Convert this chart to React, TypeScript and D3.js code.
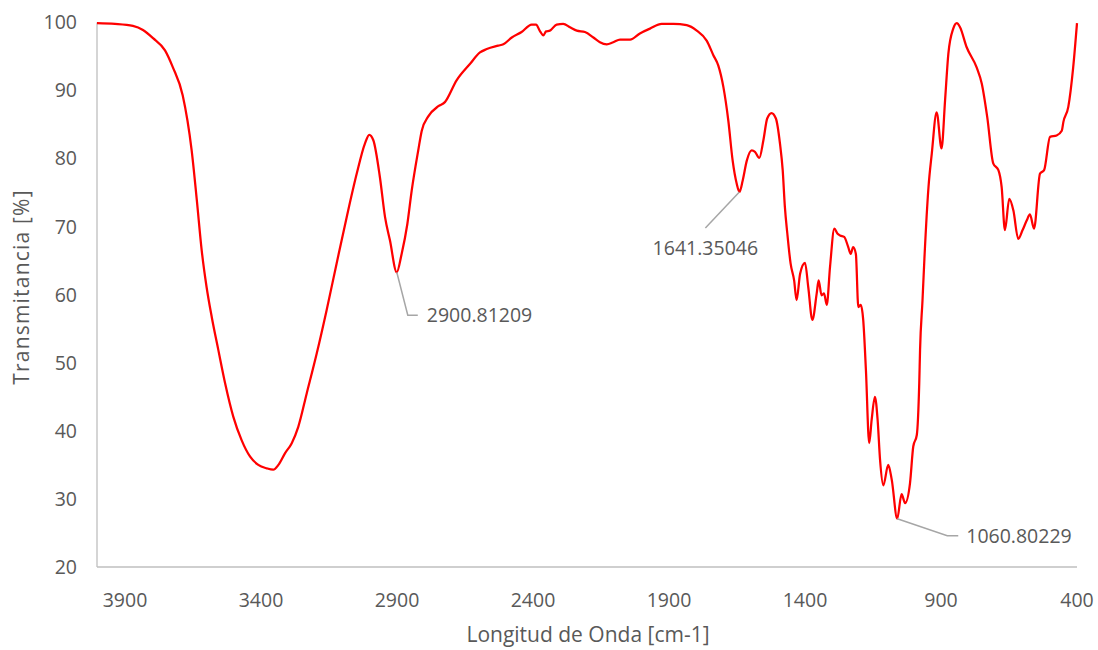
import React from 'react';
import * as d3 from 'd3';

// wavenumber [cm-1] and transmittance [%]
const waveNumbers = [
  4003, 3937, 3871, 3834, 3797, 3753, 3724, 3688, 3655, 3636, 3618, 3600, 3581, 3557, 3532,
  3502, 3471, 3440, 3410, 3379, 3355, 3336, 3312, 3287, 3263, 3232, 3195, 3159, 3122, 3085, 3048,
  3018, 3002, 2987, 2963, 2944, 2926, 2901, 2883, 2862, 2846, 2822, 2809, 2785, 2748, 2724,
  2681, 2632, 2595, 2570, 2528, 2509, 2478, 2442, 2405, 2389, 2374, 2362, 2352, 2338, 2313, 2289,
  2264, 2239, 2209, 2178, 2154, 2129, 2105, 2080, 2043, 2007, 1970, 1927, 1884, 1835, 1798, 1761,
  1737, 1719, 1700, 1682, 1666, 1651, 1641, 1629, 1614, 1596, 1584, 1568, 1553, 1539, 1523, 1507,
  1492, 1482, 1474, 1465, 1453, 1440, 1431, 1418, 1400, 1388, 1373, 1357, 1350, 1339, 1330, 1320,
  1308, 1292, 1281, 1271, 1256, 1241, 1232, 1223, 1213, 1204, 1195, 1186, 1176, 1164, 1155, 1143,
  1133, 1124, 1112, 1094, 1081, 1061, 1045, 1032, 1014, 1002, 989, 980, 977, 968, 961, 946,
  934, 916, 898, 885, 873, 855, 842, 830, 806, 769, 750, 730, 708, 689, 677, 665,
  649, 634, 616, 600, 585, 573, 558, 536, 521, 499, 475, 456, 450, 432, 414, 400,
];
const transmittance = [
  99.9, 99.8, 99.5, 98.9, 97.7, 95.9, 93.4, 89.3, 81.2, 73.9, 66.5, 61.1, 56.7, 51.9, 47.0,
  42.1, 38.6, 36.2, 35.0, 34.5, 34.3, 35.0, 36.7, 38.2, 40.6, 45.5, 51.4, 57.7, 64.6, 71.4, 77.8,
  82.2, 83.5, 82.7, 77.3, 71.4, 68.0, 63.3, 66.0, 70.4, 75.3, 81.2, 84.1, 86.2, 87.7, 88.3,
  91.5, 93.9, 95.6, 96.1, 96.6, 96.8, 97.8, 98.6, 99.7, 99.7, 98.7, 98.1, 98.7, 98.8, 99.7, 99.8,
  99.3, 98.8, 98.6, 97.8, 97.1, 96.8, 97.1, 97.5, 97.5, 98.4, 99.1, 99.8, 99.8, 99.6, 98.8, 97.3,
  95.2, 93.7, 90.5, 85.6, 79.7, 76.3, 75.1, 76.8, 79.7, 81.2, 81.0, 80.1, 82.7, 85.9, 86.7, 85.9,
  82.2, 78.3, 72.9, 69.0, 64.6, 62.1, 59.2, 63.1, 64.7, 61.1, 56.3, 60.2, 62.1, 59.9, 60.2, 58.5,
  64.1, 69.7, 69.0, 68.7, 68.5, 67.0, 66.0, 67.0, 66.0, 58.2, 58.5, 56.3, 48.9, 38.2, 41.6, 45.0,
  41.6, 35.7, 32.0, 35.0, 32.8, 27.1, 30.7, 29.4, 32.3, 37.7, 39.4, 47.0, 51.9, 59.2, 65.3, 75.8,
  80.7, 86.8, 81.5, 88.6, 95.4, 99.1, 99.9, 99.3, 96.4, 93.4, 91.0, 86.1, 79.3, 78.3, 75.8, 69.5,
  74.1, 72.4, 68.2, 69.5, 70.9, 71.8, 69.7, 77.8, 78.3, 83.2, 83.4, 84.1, 85.4, 87.6, 93.4, 99.9,
];

const xTicks = [3900, 3400, 2900, 2400, 1900, 1400, 900, 400];
const yTicks = [20, 30, 40, 50, 60, 70, 80, 90, 100];

// labelled peaks
const peakWave = [2900.81209, 1641.35046, 1060.80229];
const peakValue = [63.3, 75.1, 27.1];

const width = 1098;
const height = 650;
const font = '"Open Sans", sans-serif';
const textColor = '#595959';

export default function App() {
  const x = d3.scaleLinear().domain([4003, 400]).range([97, 1077]);
  const y = d3.scaleLinear().domain([20, 100]).range([567, 22.5]);

  const points: [number, number][] = waveNumbers.map((w, i) => [w, transmittance[i]]);
  const line = d3
    .line<[number, number]>()
    .x(d => x(d[0]))
    .y(d => y(d[1]))
    .curve(d3.curveMonotoneX);

  const p0 = [x(peakWave[0]), y(peakValue[0])];
  const p1 = [x(peakWave[1]), y(peakValue[1])];
  const p2 = [x(peakWave[2]), y(peakValue[2])];

  return (
    <svg
      width={width}
      height={height}
      style={{ position: 'absolute', left: 0, top: 0, background: '#fff' }}
      fontFamily={font}
    >
      {/* axes */}
      <line x1={97} x2={97} y1={y(100)} y2={y(20)} stroke="#bfbfbf" strokeWidth={1.3} />
      <line x1={97} x2={1077} y1={y(20)} y2={y(20)} stroke="#bfbfbf" strokeWidth={1.3} />

      {yTicks.map(t => (
        <text key={t} x={77} y={y(t)} dy="0.35em" textAnchor="end" fontSize={19.5} fill={textColor}>
          {t}
        </text>
      ))}
      {xTicks.map(t => (
        <text key={t} x={x(t)} y={600} dy="0.35em" textAnchor="middle" fontSize={19.5} fill={textColor}>
          {t}
        </text>
      ))}

      <text
        transform="translate(22,287) rotate(-90)"
        dy="0.35em"
        textAnchor="middle"
        fontSize={21}
        letterSpacing={1.2}
        fill={textColor}
      >
        Transmitancia [%]
      </text>
      <text x={588} y={635} dy="0.35em" textAnchor="middle" fontSize={21} fill={textColor}>
        Longitud de Onda [cm-1]
      </text>

      <path d={line(points) ?? ''} fill="none" stroke="#ff0000" strokeWidth={2.25} strokeLinejoin="round" />

      {/* peak labels */}
      <polyline
        points={`${p0[0]},${p0[1]} ${p0[0] + 11},${p0[1] + 43} ${p0[0] + 21},${p0[1] + 43}`}
        fill="none"
        stroke="#a6a6a6"
        strokeWidth={1.5}
      />
      <text x={p0[0] + 30} y={p0[1] + 43} dy="0.35em" fontSize={19.5} fill={textColor}>
        2900.81209
      </text>

      <polyline
        points={`${p1[0]},${p1[1]} ${p1[0] - 34},${p1[1] + 36}`}
        fill="none"
        stroke="#a6a6a6"
        strokeWidth={1.5}
      />
      <text x={p1[0] - 34} y={p1[1] + 56} dy="0.35em" textAnchor="middle" fontSize={19.5} fill={textColor}>
        1641.35046
      </text>

      <polyline
        points={`${p2[0]},${p2[1]} ${p2[0] + 50},${p2[1] + 17} ${p2[0] + 61},${p2[1] + 17}`}
        fill="none"
        stroke="#a6a6a6"
        strokeWidth={1.5}
      />
      <text x={p2[0] + 69} y={p2[1] + 17} dy="0.35em" fontSize={19.5} fill={textColor}>
        1060.80229
      </text>
    </svg>
  );
}
